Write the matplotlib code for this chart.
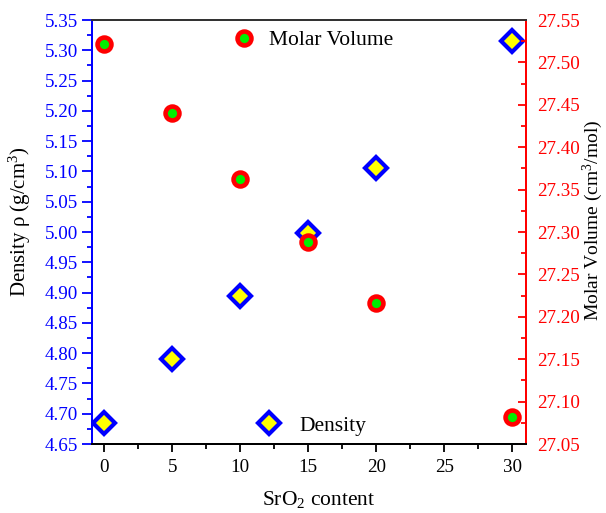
import matplotlib
matplotlib.use("Agg")
import matplotlib.pyplot as plt
from matplotlib.ticker import MultipleLocator
from matplotlib.lines import Line2D

plt.rcParams['font.family'] = ['Liberation Serif', 'DejaVu Serif']
plt.rcParams['mathtext.fontset'] = 'custom'
plt.rcParams['mathtext.rm'] = 'Liberation Serif'
plt.rcParams['mathtext.it'] = 'Liberation Serif:italic'

sro2 = [0, 5, 10, 15, 20, 30]
density = [4.684, 4.790, 4.894, 4.999, 5.105, 5.316]
molar_volume = [27.522, 27.440, 27.362, 27.288, 27.216, 27.082]

fig = plt.figure(figsize=(6.06, 5.13), dpi=100)
ax = fig.add_axes([0.1518, 0.1345, 0.716, 0.8265])
ax2 = ax.twinx()

d_style = dict(linestyle='none', marker='D', markersize=11,
               markerfacecolor='yellow', markeredgecolor='blue', markeredgewidth=3.0)
c_style = dict(linestyle='none', marker='o', markersize=10,
               markerfacecolor='#00ee00', markeredgecolor='red', markeredgewidth=3.3)

ax.plot(sro2, density, zorder=3, **d_style)
ax2.plot(sro2, molar_volume, zorder=3, **c_style)

ax.set_xlim(-0.9, 31)
ax.set_ylim(4.65, 5.35)
ax2.set_ylim(27.05, 27.55)

ax.xaxis.set_major_locator(MultipleLocator(5))
ax.xaxis.set_minor_locator(MultipleLocator(2.5))
ax.yaxis.set_major_locator(MultipleLocator(0.05))
ax.yaxis.set_minor_locator(MultipleLocator(0.025))
ax2.yaxis.set_major_locator(MultipleLocator(0.05))
ax2.yaxis.set_minor_locator(MultipleLocator(0.025))
ax.yaxis.set_major_formatter(plt.FormatStrFormatter('%.2f'))
ax2.yaxis.set_major_formatter(plt.FormatStrFormatter('%.2f'))

fs = 13.7
ax.tick_params(axis='x', which='major', direction='out', length=6, width=1.3, labelsize=fs, colors='black', top=False, pad=5)
ax.tick_params(axis='x', which='minor', direction='out', length=3.5, width=1.3, top=False)
ax.tick_params(axis='y', which='major', direction='out', length=7, width=1.3, labelsize=fs, colors='blue', right=False, pad=3)
ax.tick_params(axis='y', which='minor', direction='out', length=3.5, width=1.3, colors='blue', right=False)
ax2.tick_params(axis='y', which='major', direction='in', length=6, width=1.3, labelsize=fs, colors='red', pad=8)
ax2.tick_params(axis='y', which='minor', direction='in', length=3.5, width=1.3, colors='red')

for a in (ax, ax2):
    a.spines['left'].set_color('blue')
    a.spines['right'].set_color('red')
    a.spines['bottom'].set_color('black')
    a.spines['top'].set_color('#333333')
    for s in a.spines.values():
        s.set_linewidth(1.4)

ax.set_xlabel('SrO$_2$ content', fontsize=15.5)
ax.xaxis.set_label_coords(0.523, -0.105)
ax.set_ylabel('Density \u03c1 (g/cm$^3$)', fontsize=15)
ax.yaxis.set_label_coords(-0.136, 0.524)
ax2.set_ylabel('Molar Volume (cm$^3$/mol)', fontsize=14)
ax2.yaxis.set_label_coords(1.126, 0.528)

h_mv = Line2D([], [], **c_style)
h_d = Line2D([], [], **d_style)
leg1 = ax2.legend([h_mv], ['Molar Volume'], loc='center left', bbox_to_anchor=(0.3806, 1 - 40/513),
                  bbox_transform=fig.transFigure, frameon=False, fontsize=15.5, handletextpad=0.6,
                  handlelength=1.2, borderaxespad=0, borderpad=0)
leg2 = ax2.legend([h_d], ['Density'], loc='center left', bbox_to_anchor=(0.4232, 1 - 426/513),
                  bbox_transform=fig.transFigure, frameon=False, fontsize=15.5, handletextpad=0.8,
                  handlelength=1.2, borderaxespad=0, borderpad=0)
ax2.add_artist(leg1)

fig.savefig('out.png', dpi=100)
